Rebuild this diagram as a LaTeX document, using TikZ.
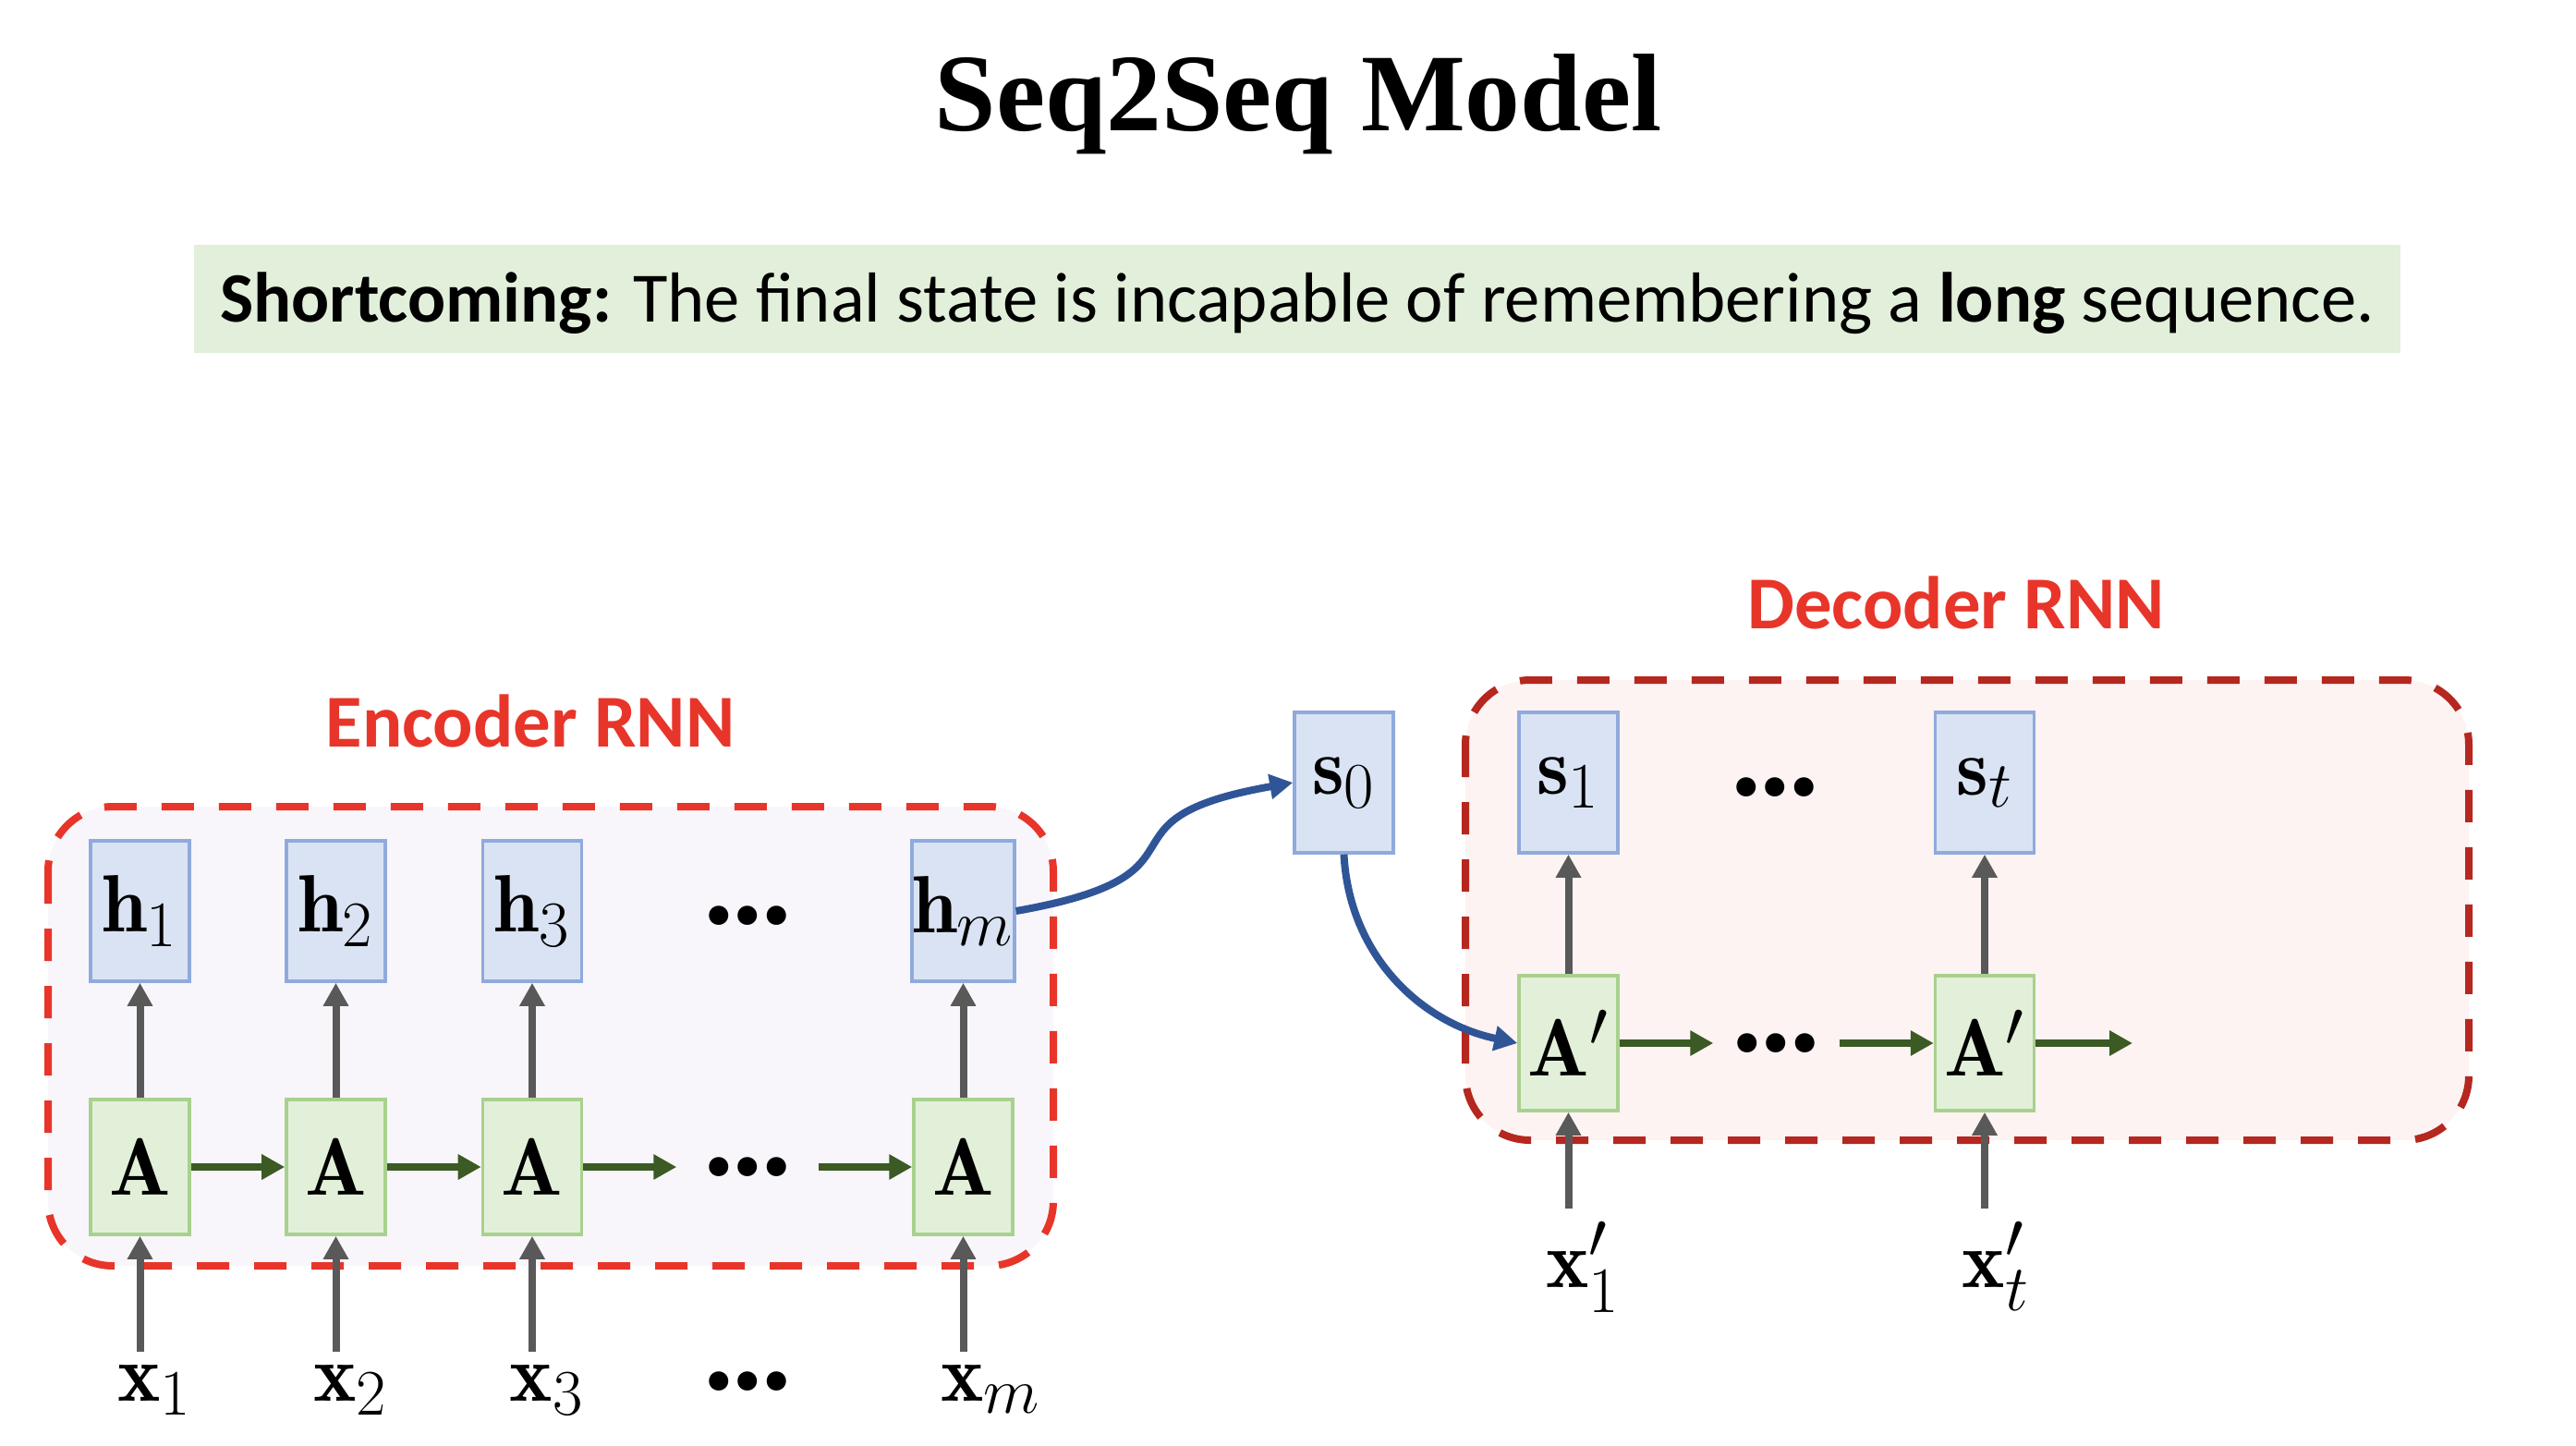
\RequirePackage{fix-cm}
\documentclass[tikz,border=0pt]{standalone}
\usepackage{amsmath,mathtools}
\usepackage{fontspec}
\newfontfamily\titlefont{Liberation Serif}
\newfontfamily\calfont{Carlito}
\DeclareMathSizes{25}{25}{20}{16}
\usepackage{tikz}
\usetikzlibrary{arrows.meta,positioning}
\definecolor{hfill}{HTML}{DAE3F3}
\definecolor{hedge}{HTML}{8FAADC}
\definecolor{afill}{HTML}{E2F0D9}
\definecolor{aedge}{HTML}{A9D18E}
\definecolor{arrgray}{HTML}{595959}
\definecolor{arrgreen}{HTML}{3B5A24}
\definecolor{arrblue}{HTML}{2F5597}
\definecolor{encred}{HTML}{E8352A}
\definecolor{decred}{HTML}{B5271F}
\definecolor{encfill}{HTML}{F8F6FB}
\definecolor{decfill}{HTML}{FCF3F2}
\definecolor{notefill}{HTML}{E2EFDA}
\tikzset{
  cell/.style={draw,line width=1pt,minimum width=1.07cm,inner sep=0pt,
    font=\fontsize{25}{30}\selectfont},
  hid/.style={cell,draw=hedge,fill=hfill,minimum height=1.52cm},
  rec/.style={cell,draw=aedge,fill=afill,minimum height=1.46cm},
  inp/.style={anchor=base,inner sep=1.3mm,font=\fontsize{25}{30}\selectfont},
  etcnode/.style={inner sep=0pt,minimum width=1.52cm,
    font=\calfont\bfseries\fontsize{40}{48}\selectfont},
  up/.style={draw=arrgray,line width=0.8mm,-{Triangle[length=2.5mm,width=2.6mm]}},
  fw/.style={draw=arrgreen,line width=0.8mm,-{Triangle[length=2.5mm,width=2.6mm]}},
  link/.style={draw=arrblue,line width=0.8mm,-{Triangle[length=2.5mm,width=2.6mm]}},
  rnn/.style={line width=0.8mm,dash pattern=on 3.5mm off 2.7mm,rounded corners=7mm},
  rnnlbl/.style={anchor=base,text=encred,font=\calfont\bfseries\fontsize{23}{28}\selectfont},
}
\begin{document}
\begin{tikzpicture}
  \useasboundingbox (0,0) rectangle (27.88,-15.64);
  \node[anchor=base,font=\titlefont\bfseries\fontsize{34}{40}\selectfont] (title) at (14.05,-1.41) {Seq2Seq Model};
  \node[fill=notefill,minimum width=23.88cm,minimum height=1.17cm,text height=0.5cm,text depth=0pt,
    inner sep=0pt,font=\calfont\fontsize{21.8}{26}\selectfont] (note) at (14.04,-3.235)
    {\textbf{Shortcoming:} The final state is incapable of remembering a \textbf{long} sequence.};

  % encoder
  \draw[rnn,draw=encred,fill=encfill] (0.52,-8.73) rectangle (11.40,-13.70);
  \node[rnnlbl] (enc) at (5.74,-8.08) {Encoder RNN};
  \node[hid] (h1) at (1.515,-9.86) {$\mathbf{h}_1$};
  \node[hid] (h2) at (3.635,-9.86) {$\mathbf{h}_2$};
  \node[hid] (h3) at (5.76,-9.86) {$\mathbf{h}_3$};
  \node[hid] (hm) at (10.425,-9.86) {$\mathbf{h}_m$};
  \node[rec] (a1) at (1.515,-12.63) {$\mathbf{A}$};
  \node[rec] (a2) at (3.635,-12.63) {$\mathbf{A}$};
  \node[rec] (a3) at (5.76,-12.63) {$\mathbf{A}$};
  \node[rec] (am) at (10.425,-12.63) {$\mathbf{A}$};
  \node[inp] (x1) at (1.515,-15.16) {$\mathbf{x}_{\mathrlap{1}}$};
  \node[inp] (x2) at (3.635,-15.16) {$\mathbf{x}_{\mathrlap{2}}$};
  \node[inp] (x3) at (5.76,-15.16) {$\mathbf{x}_{\mathrlap{3}}$};
  \node[inp] (xm) at (10.425,-15.16) {$\mathbf{x}_{\mathrlap{m}}$};
  \node[etcnode] (hdots) at (8.09,-9.91) {…};
  \node[etcnode] (adots) at (8.09,-12.63) {…};
  \node[etcnode] (xdots) at (8.09,-14.95) {…};
  \foreach \i in {1,2,3,m} {
    \draw[up] (x\i.north) -- (a\i.south);
    \draw[up] (a\i) -- (h\i);
  }
  \draw[fw] (a1) -- (a2);
  \draw[fw] (a2) -- (a3);
  \draw[fw] (a3) -- (adots);
  \draw[fw] (adots) -- (am);

  % decoder
  \draw[rnn,draw=decred,fill=decfill] (15.86,-7.36) rectangle (26.72,-12.34);
  \node[rnnlbl] (dec) at (21.17,-6.80) {Decoder RNN};
  \node[hid] (s0) at (14.545,-8.47) {$\mathbf{s}_0$};
  \node[hid] (s1) at (16.975,-8.47) {$\mathbf{s}_1$};
  \node[hid] (st) at (21.48,-8.47) {$\mathbf{s}_t$};
  \node[etcnode] (sdots) at (19.21,-8.52) {…};
  \node[rec] (b1) at (16.975,-11.29) {$\mathbf{A}'$};
  \node[rec] (bt) at (21.48,-11.29) {$\mathbf{A}'$};
  \node[etcnode,minimum width=1.35cm] (bdots) at (19.225,-11.29) {…};
  \node[inp] (y1) at (16.975,-13.93) {$\mathbf{x}^{\mathrlap{\prime}}_{\mathrlap{1}}$};
  \node[inp] (yt) at (21.48,-13.93) {$\mathbf{x}^{\mathrlap{\prime}}_{\mathrlap{t}}$};
  \coordinate (bout) at (23.08,-11.29);
  \foreach \i in {1,t} {
    \draw[up] (y\i.north) -- (b\i.south);
    \draw[up] (b\i) -- (s\i);
  }
  \draw[fw] (b1) -- (bdots);
  \draw[fw] (bdots) -- (bt);
  \draw[fw] (bt) -- (bout);

  % final state handed to the decoder
  \draw[link] (hm.east) to[out=10,in=190,looseness=1.8] (s0.west);
  \draw[link] (s0.south) to[out=-87,in=168] (b1.west);
\end{tikzpicture}
\end{document}
